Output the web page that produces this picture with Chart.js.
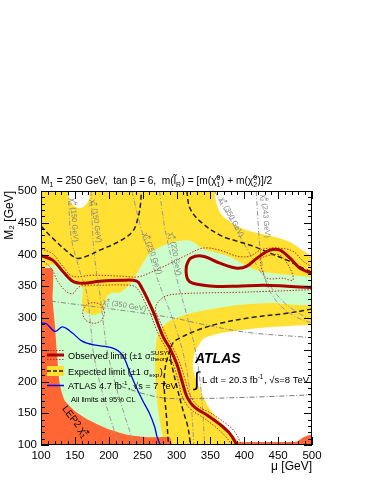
<!DOCTYPE html>
<html>
<head>
<meta charset="utf-8">
<title>M1 = 250 GeV, tan beta = 6</title>
<script src="https://cdn.jsdelivr.net/npm/chart.js@4.4.1/dist/chart.umd.min.js"></script>
<style>
  html, body { margin: 0; padding: 0; background: #ffffff; }
  canvas { display: block; }
</style>
</head>
<body>
<canvas id="exclusionChart" width="374" height="484"></canvas>
<script>
// every point is [mu, M2] in GeV

// expected limit +-1 sigma band (yellow) and the white gaps it leaves
const expBand = [[100, 100], [500, 100], [500, 500], [100, 500]];
const expBandGapTopLeft = [[139.9, 500], [141.3, 487.4], [147.2, 478], [156.1, 473.2], [164.9, 476.4], [170.8, 487.4], [172.3, 500]];
const expBandGapTopRight = [[356.2, 500], [358.6, 481.6], [366, 463.2], [380.8, 450], [400.5, 439.5], [430, 431.6], [449.7, 426.3], [469.5, 418.4], [484.2, 407.9], [500, 400], [500, 500]];
const expBandGapBottom = [[500, 289.5], [439.9, 285.8], [390.6, 280.5], [361.1, 275.3], [341.4, 268.4], [336.4, 263.2], [326.6, 244.7], [324.1, 222.1], [329.1, 201.6], [337.4, 181.1], [347.8, 158.9], [362.6, 138.4], [376.8, 122.6], [390.6, 106.8], [396.5, 100], [500, 100]];

// observed excluded area (green)
const obsArea = [[100, 376.3], [117.7, 384.2], [147.2, 355.3], [160, 350], [162, 344], [160.5, 323.6], [164.9, 309.4], [176.8, 304.7], [190, 309.4], [194.5, 323.6], [197.4, 334], [206, 340], [216.6, 340], [231.4, 353.6], [246.1, 378.9], [260.9, 402.5], [286, 416.7], [305.2, 421.5], [320, 422], [339.1, 408.9], [374.5, 397.9], [404, 382.2], [418.8, 374.3], [448.3, 369.6], [477.9, 366.5], [500, 362], [500, 322.6], [439.9, 323.7], [390.6, 320.5], [341.4, 312.1], [311.8, 304.7], [292.1, 296.3], [282.3, 289.5], [273.4, 276.3], [269.9, 260.5], [268.5, 239.5], [268.5, 213.2], [269.9, 186.8], [272.4, 160.5], [275.9, 134.2], [279.8, 113.2], [282.3, 100], [100, 100]];

// LEP2 chargino limit (orange)
const lepArea = [[100, 378.4], [117, 377.4], [117.2, 327.9], [120.7, 286.8], [123.2, 248.9], [127.6, 196.8], [135, 170], [152.7, 151.1], [171.9, 138.4], [197, 125.8], [226.6, 116.3], [260.6, 112.1], [289.7, 112.1], [292.1, 100], [100, 100]];
const lepAreaRight = [[383.4, 100], [386, 104.5], [470, 104.7], [478, 105.5], [487, 112], [500, 116], [500, 100]];

// observed limit and its theory +-1 sigma lines
const observed = [[100, 398], [117.2, 391.1], [132, 373.7], [146.8, 357.9], [161.6, 354.7], [186.7, 357.9], [220.7, 359.5], [241.4, 357.9], [248.8, 347.4], [257.6, 328.9], [267.5, 305.3], [274.9, 284.2], [281.3, 268.4], [290.1, 252.6], [300.5, 227.4], [307.9, 201.6], [315.3, 176.3], [326.6, 159.5], [344.8, 147.4], [364, 132.6], [378.8, 117.9], [389.2, 100]];
const observedIsland = [[500, 370], [482.3, 378.4], [467.5, 394.2], [452.7, 406.8], [437.9, 406.8], [418.7, 394.2], [403.9, 381.6], [389.2, 378.4], [364, 386.3], [338.9, 397.4], [321.7, 394.7], [315.3, 384.2], [314.3, 371.1], [316.7, 360.5], [324.1, 354.7], [353.7, 350], [389.2, 350], [427.6, 351.6], [463.1, 350], [500, 347.9]];
const theoryUpA = [[100, 409], [117.2, 401.1], [132, 381.6], [146.8, 365.8], [176.4, 367.4], [220.7, 365.8], [242.9, 364.7], [262.6, 372.1], [290.1, 385.8], [311.8, 397.4], [338.9, 410], [364, 406.8], [389.2, 397.4], [408.4, 397.4], [423.2, 406.8], [437.9, 410], [452.7, 410], [471.9, 405.3], [486.7, 389.5], [500, 380.5]];
const theoryUpB = [[500, 344.7], [439.9, 342.1], [390.6, 340.5], [341.4, 339.5], [311.8, 338.4], [285, 335], [272, 324], [269, 312], [272.5, 302], [280, 284.2], [286.5, 268.4], [295, 252.6], [305.5, 227.4], [313, 201.6], [321, 176.3], [333, 160.5], [351, 150], [370, 136], [386, 121], [396, 100]];
const theoryDown = [[100, 391], [114.8, 379], [124.6, 357.9], [136.9, 342.1], [146.8, 338.4], [154.2, 347.4], [161.6, 351.1], [186.7, 351.6], [220.7, 352.1], [237.9, 350], [245, 342], [251, 330], [262, 305.3], [269.5, 284.2], [276, 268.4], [284.5, 252.6], [295, 227.4], [302.5, 201.6], [309, 175], [320, 157], [338, 144], [357, 129], [372, 114], [382, 100]];
const theoryDownIsland = [[423.2, 394.2], [437.9, 398.9], [452.7, 398.9], [467.5, 378.4], [471.9, 359.5], [457.1, 362.6], [433.5, 362.6], [426.1, 375.3], [423.2, 394.2]];
const theoryRing = [[194, 308], [189.5, 319.5], [177.8, 324.3], [166.1, 319.5], [161.5, 308], [166.1, 296.5], [177.8, 291.7], [189.5, 296.5], [194, 308]];

// expected limit
const expectedA = [[100, 444.7], [117.2, 425.8], [137.9, 405.3], [152.7, 394.2], [167.5, 397.4], [186.7, 406.8], [216.3, 421.1], [235.5, 436.8], [243, 457], [247, 480], [248, 500]];
const expectedB = [[315.3, 500], [319.7, 473.2], [334.5, 452.6], [364, 430.5], [389.2, 421.1], [412.8, 413.2], [437.9, 402.1], [463.1, 391.1], [486.7, 378.4], [500, 372.1]];
const expectedC = [[500, 314.2], [463.1, 307.4], [412.8, 301.1], [364, 291.6], [330, 280.5], [304.9, 268.4], [294.6, 260.5], [287.2, 239.5], [282.3, 213.2], [282.3, 181.6], [285.2, 144.7], [288.2, 100]];
const expectedD = [[291.1, 234.2], [300.5, 192.1], [309.4, 155.3], [316.7, 128.9], [320.7, 100]];

// ATLAS 4.7 fb-1, 7 TeV limit
const atlas7TeV = [[100, 292], [108, 291], [120.5, 279], [132, 286], [146.8, 276], [160, 264], [178, 257.5], [205, 253], [220, 242], [231, 215], [241, 190], [250, 170], [260, 150], [268, 128], [271, 114], [276, 100]];

// mass contours
const isoN2_150 = [[140.4, 500], [144.3, 428.9], [156.6, 376.3], [167.5, 339.5], [173.4, 286.8], [177.4, 244.7], [188.2, 192.1], [203, 139.5], [215.4, 100]];
const isoC1_150 = [[173.9, 500], [176.4, 428.9], [181.3, 376.3], [186.7, 339.5], [192.6, 286.8], [198.5, 244.7], [210.8, 192.1], [225.6, 139.5], [237.9, 100]];
const isoN2_250 = [[234, 500], [246.8, 444.7], [259.1, 402.6], [273.9, 355.3], [291.1, 307.9], [305.9, 260.5], [316.7, 207.9], [322.7, 150], [325.6, 100]];
const isoC1_220 = [[274.9, 500], [282.3, 444.7], [291.1, 400.5], [302, 355.3], [314.3, 307.9], [325.6, 260.5], [334, 207.9], [338.9, 150], [341.4, 100]];
const isoC1_350 = [[356.2, 500], [370.9, 471.1], [390.6, 434.2], [410.3, 397.4], [434.9, 355.3], [459.6, 323.7], [484.2, 305.3], [500, 297.4]];
const isoN2_243 = [[417.7, 500], [420.2, 455.3], [424.1, 402.6], [432.5, 355.3], [449.7, 323.7], [474.4, 302.6], [500, 292.1]];
const iso350Low = [[100, 328.9], [127.6, 324.7], [193.6, 315.8], [290.1, 301.1], [341.4, 289.5], [403.9, 277.4], [494.1, 269.5], [500, 268.9]];
const isoBottom = [[218.2, 192.1], [257.6, 178.9], [290.1, 173.2], [390.6, 174.7], [500, 178.9]];

const FONT = '"Liberation Sans", Arial, Helvetica, sans-serif';
const YELLOW = '#ffe033';
const GREEN = '#ccfdcc';
const ORANGE = '#ff6633';
const DARKRED = '#aa0000';
const DOTRED = '#b83030';

function pts(list) {
    return list.map(([x, y]) => ({ x: x, y: y }));
}

function area(list, color, order, tension) {
    return {
        data: pts(list),
        fill: 'shape',
        backgroundColor: color,
        borderColor: color,
        borderWidth: 0,
        tension: tension,
        order: order
    };
}

function curve(list, color, width, dash, order) {
    return {
        data: pts(list),
        fill: false,
        borderColor: color,
        borderWidth: width,
        borderDash: dash,
        tension: 0.35,
        order: order
    };
}

const dashDot = [5, 2, 1, 2];

// chi-tilde with stacked super/subscript
const chi = (sup, sub) => ['\u03c7\u0303', { sup: sup, sub: sub }];

function richText(ctx, parts, x, y, size, draw, weight) {
    let cx = x;
    for (const p of parts) {
        if (typeof p === 'string') {
            ctx.font = (weight || '') + size + 'px ' + FONT;
            if (draw) ctx.fillText(p, cx, y);
            cx += ctx.measureText(p).width;
        } else {
            const s = size * 0.68;
            ctx.font = s + 'px ' + FONT;
            let w = 0;
            if (p.sup) {
                if (draw) ctx.fillText(p.sup, cx, y - size * 0.42);
                w = Math.max(w, ctx.measureText(p.sup).width);
            }
            if (p.sub) {
                if (draw) ctx.fillText(p.sub, cx, y + size * 0.28);
                w = Math.max(w, ctx.measureText(p.sub).width);
            }
            cx += w + size * 0.05;
        }
    }
    return cx - x;
}

const isoLabels = [
    { parts: [...chi('0', '2'), ' (150 GeV)'], mu: 149.4, m2: 454.3, rot: 86 },
    { parts: [...chi('\u00b1', '1'), ' (150 GeV)'], mu: 181.9, m2: 452.8, rot: 82 },
    { parts: [...chi('0', '2'), ' (250 GeV)'], mu: 265.3, m2: 401.6, rot: 70 },
    { parts: [...chi('\u00b1', '1'), ' (220 GeV)'], mu: 298.5, m2: 400.8, rot: 80 },
    { parts: [...chi('\u00b1', '1'), ' (350 GeV)'], mu: 381.9, m2: 459.1, rot: 62 },
    { parts: [...chi('0', '2'), ' (243 GeV)'], mu: 432.1, m2: 460.6, rot: 85 },
    { parts: [...chi('\u00b1', '1'), ' (350 GeV)'], mu: 223.2, m2: 320.5, rot: 10 }
];

const frameTicks = {
    id: 'frameTicks',
    afterDatasetsDraw(chart) {
        const { ctx, chartArea: a, scales: { x, y } } = chart;
        ctx.save();
        ctx.strokeStyle = '#000';
        ctx.lineWidth = 1;
        ctx.beginPath();
        for (let v = x.min; v <= x.max; v += 10) {
            const len = v % 50 === 0 ? 8 : 4;
            const px = Math.round(x.getPixelForValue(v)) + 0.5;
            ctx.moveTo(px, a.bottom); ctx.lineTo(px, a.bottom - len);
            ctx.moveTo(px, a.top); ctx.lineTo(px, a.top + len);
        }
        for (let v = y.min; v <= y.max; v += 10) {
            const len = v % 50 === 0 ? 8 : 4;
            const py = Math.round(y.getPixelForValue(v)) + 0.5;
            ctx.moveTo(a.left, py); ctx.lineTo(a.left + len, py);
            ctx.moveTo(a.right, py); ctx.lineTo(a.right - len, py);
        }
        ctx.stroke();
        ctx.strokeRect(a.left + 0.5, a.top + 0.5, a.right - a.left - 1, a.bottom - a.top - 1);
        ctx.restore();
    }
};

const plotText = {
    id: 'plotText',
    afterDraw(chart) {
        const { ctx, scales: { x, y } } = chart;
        ctx.save();
        ctx.textBaseline = 'alphabetic';
        ctx.textAlign = 'left';

        // title line
        ctx.fillStyle = '#000';
        richText(ctx, ['M', { sub: '1' }, ' = 250 GeV,  tan \u03b2 = 6,  m(', 'l\u0303', { sub: 'R' }, ') = [m(',
            ...chi('0', '1'), ') + m(', ...chi('0', '2'), ')]/2'], 41, 184, 10.2, true);

        // mass contour labels
        ctx.fillStyle = '#808080';
        for (const l of isoLabels) {
            const px = x.getPixelForValue(l.mu);
            const py = y.getPixelForValue(l.m2);
            ctx.save();
            ctx.translate(px, py);
            ctx.rotate(l.rot * Math.PI / 180);
            const w = richText(ctx, l.parts, 0, 0, 7.5, false);
            richText(ctx, l.parts, -w / 2, 2.6, 7.5, true);
            ctx.restore();
        }

        // LEP2 label
        ctx.fillStyle = '#000';
        ctx.save();
        ctx.translate(x.getPixelForValue(130.5), y.getPixelForValue(157));
        ctx.rotate(52 * Math.PI / 180);
        richText(ctx, ['LEP2 ', ...chi('\u00b1', '1')], 0, 0, 10, true);
        ctx.restore();

        // legend
        ctx.lineWidth = 1;
        ctx.strokeStyle = DOTRED;
        ctx.setLineDash([1.5, 1.5]);
        ctx.beginPath();
        ctx.moveTo(47, 350.5); ctx.lineTo(64, 350.5);
        ctx.moveTo(47, 359.5); ctx.lineTo(64, 359.5);
        ctx.stroke();
        ctx.setLineDash([]);
        ctx.lineWidth = 3;
        ctx.strokeStyle = DARKRED;
        ctx.beginPath(); ctx.moveTo(47, 355); ctx.lineTo(64, 355); ctx.stroke();
        ctx.fillStyle = YELLOW;
        ctx.fillRect(47, 366, 17, 10);
        ctx.lineWidth = 1.5;
        ctx.strokeStyle = '#222';
        ctx.setLineDash([4, 2]);
        ctx.beginPath(); ctx.moveTo(47, 371); ctx.lineTo(64, 371); ctx.stroke();
        ctx.setLineDash([]);
        ctx.strokeStyle = '#0000ee';
        ctx.beginPath(); ctx.moveTo(47, 385.5); ctx.lineTo(64, 385.5); ctx.stroke();

        ctx.fillStyle = '#000';
        richText(ctx, ['Observed limit (\u00b11 \u03c3', { sup: 'SUSY', sub: 'theory' }, ')'], 68, 358.5, 9.2, true);
        richText(ctx, ['Expected limit (\u00b11 \u03c3', { sub: 'exp' }, ')'], 68, 374.5, 9.2, true);
        richText(ctx, ['ATLAS 4.7 fb', { sup: '-1' }, ', \u221As = 7 TeV'], 68, 389, 9.2, true);
        richText(ctx, ['All limits at 95% CL'], 71, 402, 7.5, true);

        // experiment label
        ctx.font = 'italic bold 14px ' + FONT;
        ctx.fillText('ATLAS', 195, 363);
        ctx.font = '20px ' + FONT;
        ctx.fillText('\u222b', 194, 386);
        richText(ctx, ['L dt = 20.3 fb', { sup: '-1' }, ', \u221As=8 TeV'], 202, 383, 9.5, true);
        ctx.restore();
    }
};

new Chart(document.getElementById('exclusionChart'), {
    type: 'line',
    data: {
        datasets: [
            area(expBand, YELLOW, 30, 0),
            area(expBandGapTopLeft, '#ffffff', 29, 0.3),
            area(expBandGapTopRight, '#ffffff', 28, 0.3),
            area(expBandGapBottom, '#ffffff', 27, 0.3),
            area(obsArea, GREEN, 26, 0.25),
            area(lepArea, ORANGE, 25, 0.2),
            area(lepAreaRight, ORANGE, 24, 0.2),
            curve(isoN2_150, '#999999', 1, dashDot, 20),
            curve(isoC1_150, '#999999', 1, dashDot, 20),
            curve(isoN2_250, '#999999', 1, dashDot, 20),
            curve(isoC1_220, '#999999', 1, dashDot, 20),
            curve(isoC1_350, '#999999', 1, dashDot, 20),
            curve(isoN2_243, '#999999', 1, dashDot, 20),
            curve(iso350Low, '#888888', 1, dashDot, 20),
            curve(isoBottom, '#777777', 1, dashDot, 20),
            curve(atlas7TeV, '#0000ee', 1.3, [], 15),
            curve(expectedA, '#222222', 1.5, [5, 3], 12),
            curve(expectedB, '#222222', 1.5, [5, 3], 12),
            curve(expectedC, '#222222', 1.5, [5, 3], 12),
            curve(expectedD, '#222222', 1.5, [5, 3], 12),
            curve(theoryUpA, DOTRED, 1, [1.5, 1.5], 8),
            curve(theoryUpB, DOTRED, 1, [1.5, 1.5], 8),
            curve(theoryDown, DOTRED, 1, [1.5, 1.5], 8),
            curve(theoryDownIsland, DOTRED, 1, [1.5, 1.5], 8),
            curve(theoryRing, DOTRED, 1, [1.5, 1.5], 8),
            curve(observed, DARKRED, 3, [], 5),
            curve(observedIsland, DARKRED, 3, [], 5)
        ]
    },
    options: {
        responsive: false,
        maintainAspectRatio: false,
        animation: false,
        events: [],
        layout: { padding: { top: 191, right: 62, bottom: 8, left: 0 } },
        elements: { point: { radius: 0 } },
        scales: {
            x: {
                type: 'linear',
                min: 100,
                max: 500,
                grid: { display: false, drawTicks: false },
                border: { display: false },
                ticks: { stepSize: 50, padding: 4, color: '#000', font: { family: FONT, size: 11.5 }, autoSkip: false, maxRotation: 0 },
                title: { display: true, text: '\u03bc [GeV]', align: 'end', color: '#000', font: { family: FONT, size: 12 }, padding: { top: 0, bottom: 2 } },
                afterFit: (s) => { s.height = 31; }
            },
            y: {
                type: 'linear',
                min: 100,
                max: 500,
                grid: { display: false, drawTicks: false },
                border: { display: false },
                ticks: { stepSize: 50, padding: 4, color: '#000', font: { family: FONT, size: 11.5 }, autoSkip: false },
                title: { display: true, text: 'M\u2082 [GeV]', align: 'end', color: '#000', font: { family: FONT, size: 12 }, padding: { top: 2, bottom: 0 } },
                afterFit: (s) => { s.width = 41; }
            }
        },
        plugins: {
            legend: { display: false },
            tooltip: { enabled: false }
        }
    },
    plugins: [frameTicks, plotText]
});
</script>
</body>
</html>
